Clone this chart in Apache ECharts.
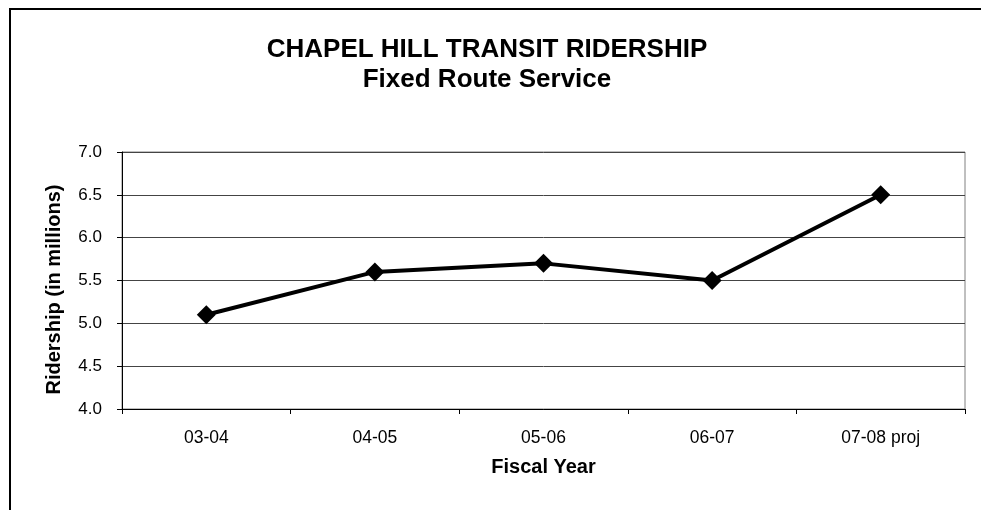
<!DOCTYPE html>
<html>
<head>
<meta charset="utf-8">
<script src="https://cdn.jsdelivr.net/npm/echarts@6/dist/echarts.min.js"></script>
<style>
  html, body { margin: 0; padding: 0; background: #fff; }
  #chart { width: 981px; height: 510px; }
</style>
</head>
<body>
<div id="chart"></div>
<script>
var years = ["03-04", "04-05", "05-06", "06-07", "07-08 proj"];
var ridership = [5.1, 5.6, 5.7, 5.5, 6.5];
var yTicks = [4.0, 4.5, 5.0, 5.5, 6.0, 6.5, 7.0];

var font = 'Arial, "Liberation Sans", sans-serif';
var myChart = echarts.init(document.getElementById("chart"));

var option = {
  animation: false,
  backgroundColor: '#fff',
  title: {
    text: 'CHAPEL HILL TRANSIT RIDERSHIP\nFixed Route Service',
    left: 482,
    top: 30,
    textAlign: 'center',
    textStyle: {
      fontFamily: font,
      fontSize: 26,
      fontWeight: 'bold',
      color: '#000',
      lineHeight: 30
    }
  },
  graphic: [{
    // outer frame, only top and left edges show
    type: 'rect',
    shape: { x: 10, y: 9, width: 1100, height: 600 },
    style: { fill: null, stroke: '#000', lineWidth: 2 },
    silent: true
  }, {
    // plot area frame (top/right)
    type: 'rect',
    shape: { x: 122, y: 152, width: 843, height: 257 },
    style: { fill: null, stroke: '#808080', lineWidth: 1 },
    silent: true,
    z: 0
  }],
  grid: {
    left: 122,
    right: 16,
    top: 152,
    bottom: 101,
    containLabel: false
  },
  xAxis: {
    type: 'category',
    data: years,
    boundaryGap: true,
    name: 'Fiscal Year',
    nameLocation: 'middle',
    nameGap: 48,
    nameTextStyle: { fontFamily: font, fontSize: 20, fontWeight: 'bold', color: '#000' },
    axisLine: { lineStyle: { color: '#000', width: 1 } },
    axisTick: { show: true, length: 5, lineStyle: { color: '#000' } },
    axisLabel: { fontFamily: font, fontSize: 17.5, color: '#000', margin: 20 },
    splitLine: { show: false }
  },
  yAxis: {
    type: 'value',
    min: yTicks[0],
    max: yTicks[yTicks.length - 1],
    interval: 0.5,
    name: 'Ridership (in millions)',
    nameLocation: 'middle',
    nameGap: 58,
    nameTextStyle: {
      fontFamily: font, fontSize: 20, fontWeight: 'bold', color: '#000',
      padding: [0, 18, 0, 0]
    },
    axisLine: { show: true, lineStyle: { color: '#000', width: 1 } },
    axisTick: { show: true, length: 5, lineStyle: { color: '#000' } },
    axisLabel: {
      fontFamily: font, fontSize: 17, color: '#000', margin: 20,
      formatter: function (v) { return v.toFixed(1); }
    },
    splitLine: { show: true, lineStyle: { color: '#444', width: 1 } }
  },
  series: [{
    type: 'line',
    data: ridership,
    symbol: 'diamond',
    symbolSize: 19,
    lineStyle: { color: '#000', width: 4 },
    itemStyle: { color: '#000' }
  }]
};
myChart.setOption(option);
</script>
</body>
</html>
